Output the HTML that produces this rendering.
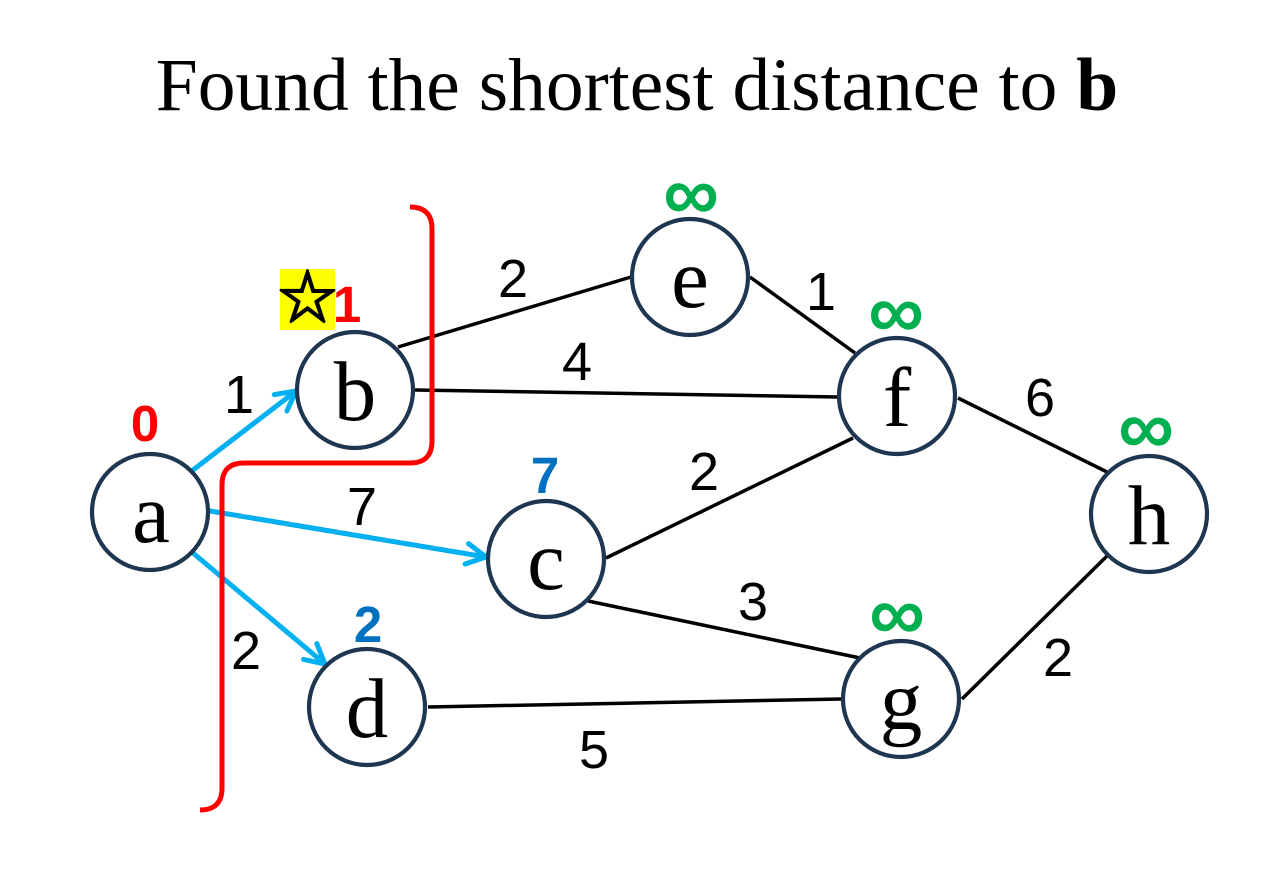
<!DOCTYPE html>
<html>
<head>
<meta charset="utf-8">
<style>
  html, body { margin: 0; padding: 0; background: #ffffff; }
  body { width: 1267px; height: 875px; overflow: hidden; }
  svg { display: block; }
</style>
</head>
<body>
<svg width="1267" height="875" viewBox="0 0 1267 875" xmlns="http://www.w3.org/2000/svg">
  <rect x="0" y="0" width="1267" height="875" fill="#ffffff"/>

  <!-- Title -->
  <text x="637" y="110" font-family="'Liberation Serif', serif" font-size="75.5" text-anchor="middle" fill="#000">Found the shortest distance to <tspan font-weight="bold">b</tspan></text>

  <!-- Black edges -->
  <g stroke="#000" stroke-width="3.5" fill="none" stroke-linecap="butt">
    <line x1="398" y1="347" x2="631" y2="277"/>
    <line x1="415" y1="390" x2="838" y2="397"/>
    <line x1="750" y1="277" x2="855" y2="353"/>
    <line x1="606" y1="558" x2="853" y2="438"/>
    <line x1="588" y1="601" x2="860" y2="658"/>
    <line x1="428" y1="707" x2="842" y2="699"/>
    <line x1="958" y1="398" x2="1107" y2="472"/>
    <line x1="962" y1="699" x2="1107" y2="556"/>
  </g>

  <!-- Blue arrows -->
  <g stroke="#00b0f0" stroke-width="5" fill="none" stroke-linecap="round" stroke-linejoin="round">
    <line x1="193" y1="470" x2="296" y2="391"/>
    <polyline points="274.3,394.6 296,391 286.9,411"/>
    <line x1="210" y1="511" x2="486" y2="557"/>
    <polyline points="468.5,543.6 486,557 465.1,564"/>
    <line x1="193" y1="553" x2="325" y2="664"/>
    <polyline points="316.8,643.6 325,664 303.5,659.4"/>
  </g>

  <!-- Nodes -->
  <g stroke="#1f3651" stroke-width="4.2" fill="#ffffff">
    <circle cx="150" cy="512" r="58"/>
    <circle cx="355" cy="390" r="58"/>
    <circle cx="690" cy="277" r="58"/>
    <circle cx="897" cy="396" r="58"/>
    <circle cx="546" cy="559" r="58"/>
    <circle cx="1149" cy="514" r="58"/>
    <circle cx="367" cy="707" r="58"/>
    <circle cx="901" cy="699" r="58"/>
  </g>

  <!-- Node letters -->
  <g font-family="'Liberation Serif', serif" font-size="85" text-anchor="middle" fill="#000">
    <text x="151" y="542">a</text>
    <text x="355" y="420">b</text>
    <text x="690" y="307">e</text>
    <text x="897" y="426">f</text>
    <text x="546" y="589">c</text>
    <text x="1149" y="544">h</text>
    <text x="367" y="737">d</text>
    <text x="901" y="729">g</text>
  </g>

  <!-- Edge weight labels -->
  <g font-family="'Liberation Sans', sans-serif" font-size="54" text-anchor="middle" fill="#000">
    <text x="513" y="297">2</text>
    <text x="821" y="310">1</text>
    <text x="577" y="380">4</text>
    <text x="1040" y="416">6</text>
    <text x="239" y="413">1</text>
    <text x="362" y="525">7</text>
    <text x="704" y="490">2</text>
    <text x="753" y="620">3</text>
    <text x="246" y="669">2</text>
    <text x="594" y="768">5</text>
    <text x="1058" y="676">2</text>
  </g>

  <!-- Distance labels -->
  <g font-family="'Liberation Sans', sans-serif" font-size="51" font-weight="bold" text-anchor="middle">
    <text x="145" y="441" fill="#ff0000">0</text>
    <text x="347" y="322" fill="#ff0000">1</text>
    <text x="545" y="493" fill="#0070c0">7</text>
    <text x="368" y="642" fill="#0070c0">2</text>
  </g>

  <!-- Infinity labels -->
  <g font-family="'Liberation Sans', sans-serif" font-size="78" font-weight="bold" text-anchor="middle" fill="#00b050">
    <text x="691" y="220">∞</text>
    <text x="896" y="338">∞</text>
    <text x="1146" y="454">∞</text>
    <text x="897" y="640">∞</text>
  </g>

  <!-- Star marker -->
  <rect x="280" y="269" width="55" height="61" fill="#ffff00"/>
  <text x="307.5" y="318" font-family="'Noto Sans CJK JP', 'DejaVu Sans', sans-serif" font-size="58" text-anchor="middle" fill="#000" stroke="#000" stroke-width="2">☆</text>

  <!-- Red bracket -->
  <path d="M 200 810 Q 222 810 222 788 L 222 485 Q 222 463 244 463 L 410 463 Q 432 463 432 441 L 432 229 Q 432 207 410 207"
        stroke="#ff0000" stroke-width="5" fill="none" stroke-linecap="butt" stroke-linejoin="round"/>
</svg>
</body>
</html>
